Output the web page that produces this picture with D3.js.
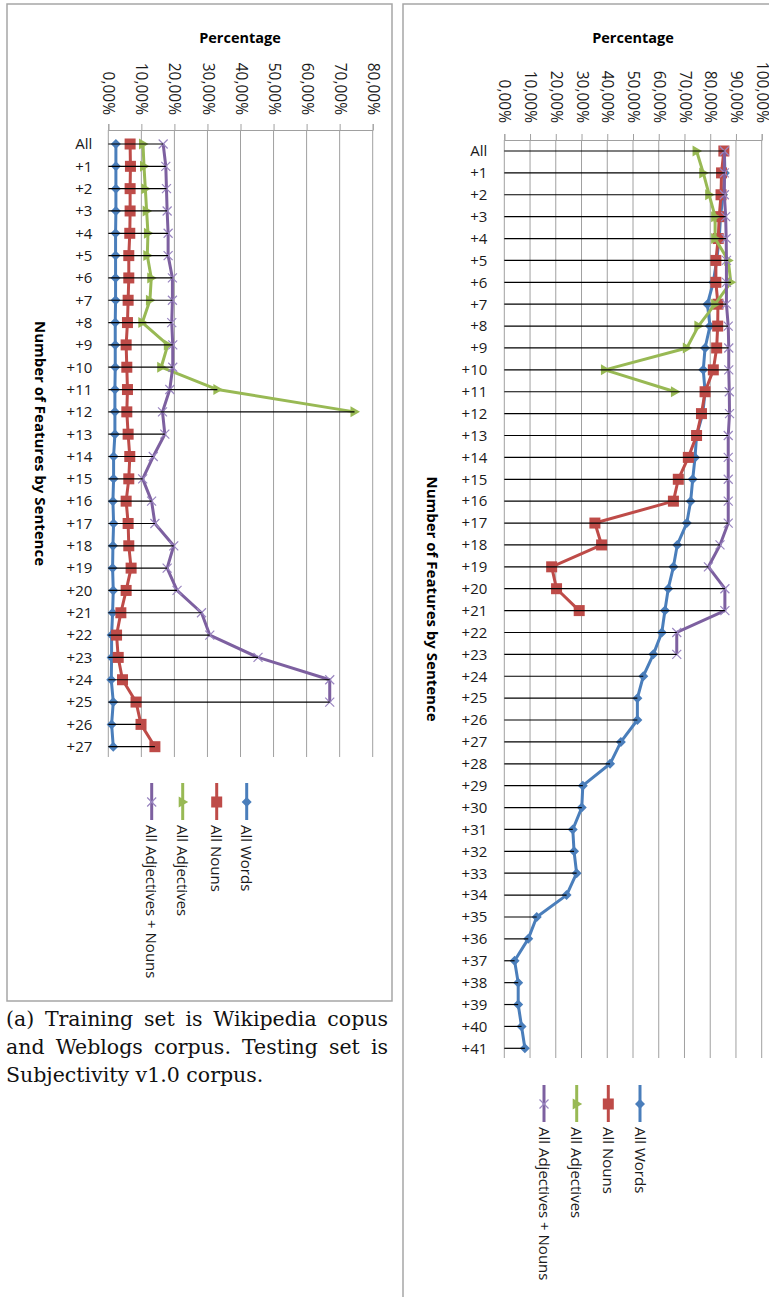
<!DOCTYPE html>
<html>
<head>
<meta charset="utf-8">
<script src="https://cdn.jsdelivr.net/npm/d3@7"></script>
<style>
  body { margin: 0; background: #fff; }
  svg { display: block; }
</style>
</head>
<body>
<div id="chart"></div>
<script>
const width = 769, height = 1297;

// ---- data ----
const catsLeft = ["All"].concat(d3.range(1, 28).map(i => "+" + i));
const catsRight = ["All"].concat(d3.range(1, 42).map(i => "+" + i));
const xTicksLeft = [0, 10, 20, 30, 40, 50, 60, 70, 80];
const xTicksRight = [0, 10, 20, 30, 40, 50, 60, 70, 80, 90, 100];
const seriesNames = ["All Words", "All Nouns", "All Adjectives", "All Adjectives + Nouns"];

// (a) Wikipedia + Weblogs -> Subjectivity v1.0
const wordsLeft = [2.3, 2.3, 2.3, 2.3, 2.2, 2.2, 2.2, 2.2, 2.1, 2.1, 2.1, 2.0, 2.0, 2.0, 1.6, 1.6, 1.4, 1.6, 1.4, 1.3, 1.5, 1.3, 1.0, 1.0, 0.9, 1.5, 1.0, 1.5];
const nounsLeft = [6.6, 6.7, 6.6, 6.6, 6.5, 6.2, 6.2, 6.0, 5.8, 5.4, 5.6, 5.8, 5.6, 6.0, 6.5, 6.2, 5.4, 6.0, 6.2, 6.9, 5.4, 3.8, 2.5, 3.0, 4.3, 8.4, 9.9, 14.1];
const adjLeft = [10.5, 10.8, 11.2, 11.6, 12.0, 11.8, 13.0, 12.6, 10.3, 18.0, 16.0, 33.0, 74.5];
const adjNounsLeft = [16.6, 17.4, 17.6, 17.8, 18.1, 18.1, 19.4, 19.4, 19.2, 19.5, 19.5, 18.6, 16.4, 17.1, 13.6, 10.4, 13.1, 14.1, 19.8, 17.8, 20.8, 28.2, 30.7, 45.3, 67.0, 67.0];

// (b) right panel
const wordsRight = [85.5, 85.7, 85.0, 84.0, 83.5, 82.5, 81.2, 78.9, 79.9, 78.0, 77.3, 78.0, 77.1, 74.7, 74.1, 73.2, 72.4, 70.9, 67.2, 65.7, 63.7, 62.4, 61.2, 57.9, 54.0, 51.7, 51.7, 45.3, 41.1, 30.5, 30.1, 26.6, 27.1, 28.1, 24.2, 12.6, 9.3, 4.0, 5.4, 5.4, 6.7, 8.0];
const nounsRight = [85.3, 84.4, 84.2, 83.5, 83.1, 82.2, 82.2, 83.0, 82.9, 82.5, 81.2, 78.0, 76.6, 74.7, 71.5, 67.6, 65.7, 35.2, 37.8, 18.4, 20.3, 29.1];
const adjRight = [74.7, 77.3, 79.6, 81.9, 81.9, 87.0, 88.0, 81.9, 75.4, 70.9, 39.1, 66.3];
const adjNounsRight = [85.5, 85.5, 85.5, 86.0, 86.2, 86.3, 86.3, 86.3, 87.0, 87.2, 87.2, 87.4, 87.5, 87.0, 87.0, 87.0, 87.0, 87.0, 83.8, 79.3, 85.7, 85.7, 67.0, 67.0];

const captionLines = [
  ["(a)", "Training", "set", "is", "Wikipedia", "copus"],
  ["and", "Weblogs", "corpus.", "Testing", "set", "is"],
  ["Subjectivity v1.0 corpus."]
];

const colors = ["#4A7EBB", "#BE4B48", "#98B954", "#7D60A0"];
const markers = ["diamond", "square", "triangle", "cross"];
const labelFont = "'Open Sans', 'Noto Sans', sans-serif";

const svg = d3.select("#chart")
  .append("svg")
  .attr("width", width)
  .attr("height", height)
  .attr("viewBox", [0, 0, width, height]);

svg.append("rect").attr("width", width).attr("height", height).attr("fill", "#fff");

// marker drawing, shapes already turned the way the rotated chart shows them
function drawMarker(g, kind, color) {
  if (kind == "diamond") {
    g.append("path").attr("d", "M0,-5L5,0L0,5L-5,0Z").attr("fill", color);
  } else if (kind == "square") {
    g.append("rect").attr("x", -5.5).attr("y", -5.5).attr("width", 11).attr("height", 11).attr("fill", color);
  } else if (kind == "triangle") {
    g.append("path").attr("d", "M-4,-5.5L5.5,0L-4,5.5Z").attr("fill", color);
  } else {
    g.append("path").attr("d", "M-4.5,-4.5L4.5,4.5M-4.5,4.5L4.5,-4.5")
      .attr("stroke", "#9A86C0").attr("stroke-width", 1.2).attr("fill", "none");
  }
}

function drawChart(c) {
  const g = svg.append("g");

  // frame round the chart
  g.append("rect")
    .attr("x", c.box[0]).attr("y", c.box[1])
    .attr("width", c.box[2]).attr("height", c.box[3])
    .attr("fill", "none").attr("stroke", "#A6A6A6").attr("stroke-width", 1.5);

  let x = d3.scaleLinear().domain([0, c.xMax]).range(c.xRange);
  let y = d3.scalePoint().domain(c.cats).range(c.yRange);

  // vertical gridlines
  g.append("g")
    .selectAll("line")
    .data(c.ticks)
    .join("line")
    .attr("x1", d => x(d)).attr("x2", d => x(d))
    .attr("y1", c.top).attr("y2", c.bottom)
    .attr("stroke", "#A0A0A0").attr("stroke-width", 1);

  // value axis along the top
  const ax = g.append("g")
    .attr("transform", `translate(0,${c.top})`)
    .call(d3.axisTop(x).tickValues(c.ticks).tickSize(6).tickSizeOuter(6)
      .tickFormat(d => d.toFixed(2).replace(".", ",") + "%"));
  ax.select(".domain").attr("stroke", "#A0A0A0");
  ax.selectAll(".tick line").attr("stroke", "#A0A0A0");
  ax.selectAll("text")
    .attr("font-family", labelFont).attr("font-size", 15.5).attr("fill", "#1a1a1a")
    .attr("x", 0).attr("y", 0).attr("dy", "0.35em")
    .attr("text-anchor", "end")
    .attr("transform", `translate(0,${-c.labelGap}) rotate(90)`);

  // category labels
  const ay = g.append("g")
    .attr("transform", `translate(${x(0)},0)`)
    .call(d3.axisLeft(y).tickSize(0).tickPadding(c.catPad));
  ay.select(".domain").remove();
  ay.selectAll("text").attr("font-family", labelFont).attr("font-size", 15).attr("fill", "#1a1a1a");

  // titles
  g.append("text")
    .attr("x", c.titleX).attr("y", 43)
    .attr("text-anchor", "middle")
    .attr("font-family", labelFont).attr("font-size", 14.5).attr("font-weight", "bold")
    .text("Percentage");

  g.append("text")
    .attr("transform", `translate(${c.yTitleX},${(c.top + c.bottom) / 2}) rotate(90)`)
    .attr("dy", "0.35em")
    .attr("text-anchor", "middle")
    .attr("font-family", labelFont).attr("font-size", 15).attr("font-weight", "bold")
    .text("Number of Features by Sentence");

  // series lines and markers
  c.series.forEach((vals, i) => {
    let line = d3.line()
      .x(d => x(d))
      .y((d, j) => y(c.cats[j]));
    g.append("path")
      .datum(vals)
      .attr("d", line)
      .attr("fill", "none")
      .attr("stroke", colors[i])
      .attr("stroke-width", 3)
      .attr("stroke-linejoin", "round");
    vals.forEach((v, j) => {
      const m = g.append("g").attr("transform", `translate(${x(v)},${y(c.cats[j])})`);
      drawMarker(m, markers[i], colors[i]);
    });
  });

  // high-low lines from the axis to the highest series
  const highs = c.cats.map((cat, j) => d3.max(c.series, s => s[j] === undefined ? 0 : s[j]));
  g.append("g")
    .selectAll("line")
    .data(highs)
    .join("line")
    .attr("x1", x(0))
    .attr("x2", d => x(d))
    .attr("y1", (d, j) => y(c.cats[j]))
    .attr("y2", (d, j) => y(c.cats[j]))
    .attr("stroke", "#000").attr("stroke-width", 1.2);

  // legend, written top to bottom
  const order = [3, 2, 1, 0];
  order.forEach((si, k) => {
    const lx = c.legendX[k];
    const lg = g.append("g");
    lg.append("line")
      .attr("x1", lx).attr("x2", lx)
      .attr("y1", c.legendY).attr("y2", c.legendY + 37)
      .attr("stroke", colors[si]).attr("stroke-width", 3);
    drawMarker(lg.append("g").attr("transform", `translate(${lx},${c.legendY + 19})`), markers[si], colors[si]);
    lg.append("text")
      .attr("transform", `translate(${lx},${c.legendY + 42}) rotate(90)`)
      .attr("dy", "0.35em")
      .attr("font-family", labelFont).attr("font-size", 15).attr("fill", "#1a1a1a")
      .text(seriesNames[si]);
  });
}

drawChart({
  box: [7, 4, 385, 997],
  cats: catsLeft,
  ticks: xTicksLeft,
  xMax: 80,
  xRange: [108.3, 372.7],
  yRange: [144, 746.7],
  top: 130, bottom: 757,
  labelGap: 15,
  catPad: 16,
  titleX: 240,
  yTitleX: 40,
  legendX: [151.7, 182.7, 216.7, 246.7],
  legendY: 783,
  series: [wordsLeft, nounsLeft, adjLeft, adjNounsLeft]
});

drawChart({
  box: [403, 4, 380, 1310],
  cats: catsRight,
  ticks: xTicksRight,
  xMax: 100,
  xRange: [504.3, 761.7],
  yRange: [151, 1048.3],
  top: 140, bottom: 1058,
  labelGap: 17,
  catPad: 17,
  titleX: 633,
  yTitleX: 432,
  legendX: [544, 576.7, 608.3, 640],
  legendY: 1085,
  series: [wordsRight, nounsRight, adjRight, adjNounsRight]
});

// caption under the left panel, first two lines justified
const cap = svg.append("g")
  .attr("font-family", "'DejaVu Serif', 'Liberation Serif', serif")
  .attr("font-size", 20.5)
  .attr("fill", "#111");

function justifyLine(words, x0, x1, yy) {
  const texts = words.map(w => cap.append("text").attr("y", yy).text(w));
  const widths = texts.map(t => t.node().getComputedTextLength());
  const gap = (x1 - x0 - d3.sum(widths)) / (words.length - 1);
  let xx = x0;
  texts.forEach((t, i) => { t.attr("x", xx); xx += widths[i] + gap; });
}

justifyLine(captionLines[0], 6, 388, 1026);
justifyLine(captionLines[1], 6, 388, 1054);
cap.append("text").attr("x", 6).attr("y", 1082).text(captionLines[2][0]);
</script>
</body>
</html>
